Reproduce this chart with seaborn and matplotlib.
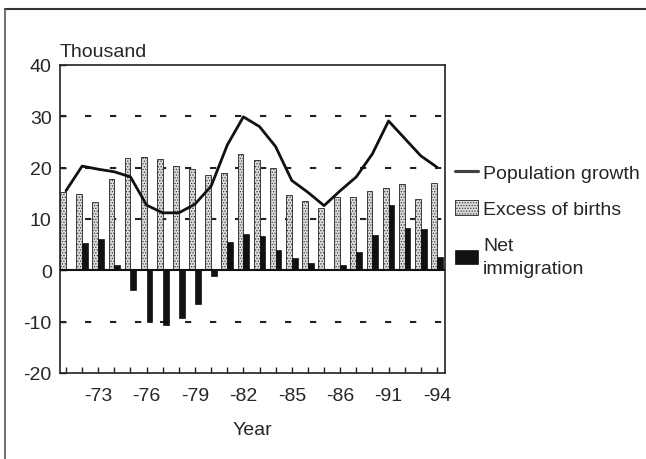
import numpy as np
import pandas as pd
import matplotlib
matplotlib.use("Agg")
import matplotlib.pyplot as plt
from matplotlib.lines import Line2D
import seaborn as sns

# --- data (thousands) ---
years = list(range(1971, 1995))
excess_of_births = [15.2, 14.9, 13.4, 17.8, 21.9, 22.1, 21.6, 20.3, 19.7, 18.6, 19.0, 22.7,
                    21.4, 19.9, 14.6, 13.5, 12.2, 14.3, 14.2, 15.5, 16.0, 16.8, 13.8, 17.1]
net_immigration = [0.3, 5.3, 6.1, 1.0, -3.9, -10.1, -10.7, -9.3, -6.5, -1.2, 5.6, 7.1,
                   6.6, 3.9, 2.5, 1.4, 0.3, 1.0, 3.6, 6.9, 12.7, 8.3, 8.1, 2.6]
population_growth = [15.5, 20.3, 19.7, 19.2, 18.2, 12.7, 11.2, 11.2, 12.9, 16.4, 24.4, 29.9,
                     28.0, 24.1, 17.5, 15.2, 12.6, 15.5, 18.2, 22.7, 29.1, 25.7, 22.3, 20.1]
tick_years = [1973, 1976, 1979, 1982, 1985, 1988, 1991, 1994]
tick_labels = ["-73", "-76", "-79", "-82", "-85", "-86", "-91", "-94"]

bars = pd.DataFrame({
    "year": years * 2,
    "value": excess_of_births + net_immigration,
    "series": ["Excess of births"] * len(years) + ["Net\nimmigration"] * len(years),
})

sns.set_style("white")
plt.rcParams["font.family"] = ["Liberation Sans", "DejaVu Sans"]
plt.rcParams["axes.unicode_minus"] = False
plt.rcParams["hatch.linewidth"] = 0.6

fig = plt.figure(figsize=(6.46, 4.60), dpi=100)
ax = fig.add_axes([60 / 646, 1 - 374 / 460, 385 / 646, 308 / 460])

sns.barplot(data=bars, x="year", y="value", hue="series", order=years,
            hue_order=["Excess of births", "Net\nimmigration"],
            palette={"Excess of births": "#dcdcdc", "Net\nimmigration": "#111111"},
            width=0.72, ax=ax, legend=False, saturation=1)

# stippled look for births bars
for patch in ax.containers[0]:
    patch.set_hatch("......")
    patch.set_edgecolor("#3a3a3a")
    patch.set_linewidth(0.7)
for patch in ax.containers[1]:
    patch.set_edgecolor("#111111")
    patch.set_linewidth(0.5)

sns.lineplot(x=np.arange(len(years)), y=population_growth, ax=ax,
             color="#111111", linewidth=2.0, label="Population growth", legend=False)

# axes cosmetics
ax.set_ylim(-20, 40)
ax.set_xlim(-0.37, 23.5)
ax.set_yticks([-20, -10, 0, 10, 20, 30, 40])
ax.set_xticks(range(len(years)))
ax.set_xticklabels([tick_labels[tick_years.index(y)] if y in tick_years else "" for y in years])
ax.tick_params(axis="both", labelsize=14, direction="in", length=4, width=1, color="#222222",
               left=True, bottom=True, pad=6)
ax.tick_params(axis="x", pad=10)
for s in ax.spines.values():
    s.set_color("#222222")
    s.set_linewidth(1.2)

for yv in [-10, 10, 20, 30]:
    ax.axhline(yv, color="#222222", linewidth=1.5, linestyle=(0, (3, 9)), zorder=0)
ax.axhline(0, color="#111111", linewidth=1.5, zorder=3)

ax.set_xlabel("Year", fontsize=14, labelpad=12)
ax.set_ylabel("")
ax.text(0.0, 1.015, "Thousand", transform=ax.transAxes, fontsize=14, ha="left", va="bottom")

# legend outside on the right
handles = [ax.lines[0], ax.containers[0], ax.containers[1]]
labels = ["Population growth", "Excess of births", "Net\nimmigration"]
leg = fig.legend(handles, labels, loc="upper left", bbox_to_anchor=(455 / 646, 1 - 165 / 460),
                 frameon=False, fontsize=14, handlelength=1.2, handleheight=0.75,
                 handletextpad=0.25, labelspacing=0.95, borderaxespad=0, borderpad=0)
for t in leg.get_texts():
    t.set_linespacing(1.5)

# outer frame (top and left edges visible)
fig.add_artist(Line2D([5 / 646, 1], [1 - 10 / 460, 1 - 10 / 460], color="#333333", linewidth=1.5))
fig.add_artist(Line2D([5 / 646, 5 / 646], [0, 1 - 10 / 460], color="#555555", linewidth=1.2))

fig.savefig("out.png", dpi=100)
